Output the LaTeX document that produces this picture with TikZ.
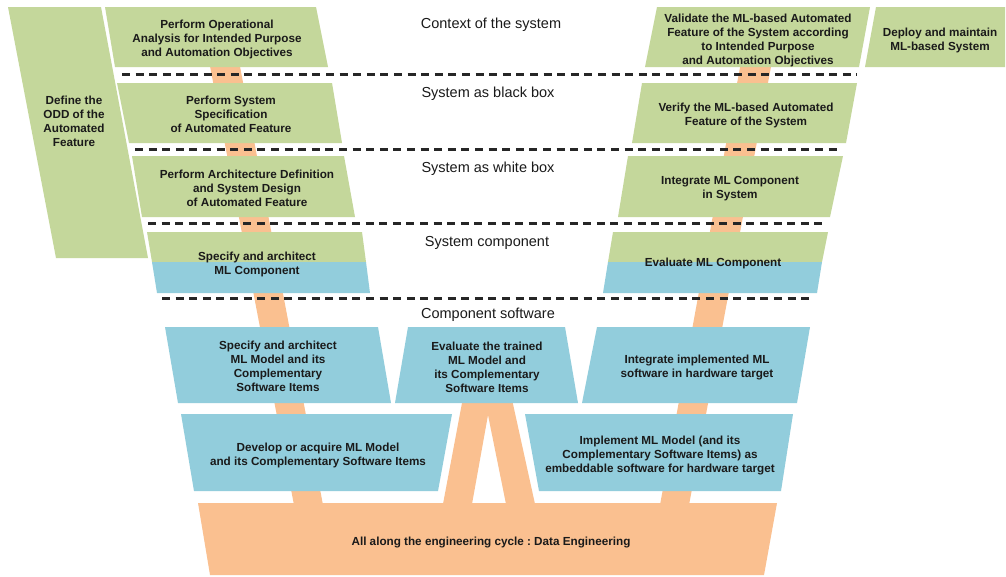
\documentclass[tikz,border=0pt]{standalone}
\usepackage{fontspec}
\setmainfont{Liberation Sans}
\frenchspacing
\definecolor{boxgreen}{HTML}{C4D79B}
\definecolor{boxblue}{HTML}{92CDDC}
\definecolor{band}{HTML}{FAC090}
\definecolor{ink}{HTML}{1A1A1A}
\tikzset{
  lbl/.style={font=\fontsize{11.7}{14}\selectfont\bfseries, text=ink, align=center, inner sep=0pt},
  head/.style={font=\fontsize{14.5}{17}\selectfont, text=ink, inner sep=0pt},
  sep/.style={line width=2.8pt, dash pattern=on 8pt off 5.6pt, black!85},
}
\begin{document}
\begin{tikzpicture}[x=1pt,y=-1pt]
\useasboundingbox (0,0) rectangle (1006,576);
\fill[white] (0,0) rectangle (1006,576);
% orange bands
\fill[band] (205,40) -- (235,40) -- (323,505) -- (294,505) -- cycle;
\fill[band] (745,40) -- (776,40) -- (689,505) -- (660,505) -- cycle;
\fill[band] (463.5,395) -- (511,395) -- (535,504) -- (506,504) -- (488,415) -- (472,504) -- (443,504) -- cycle;
\fill[band] (198,503) -- (777,503) -- (764,575) -- (210,575) -- cycle;
% left column
\fill[boxgreen] (8,7) -- (101,7) -- (148,258) -- (56,258) -- cycle;
\fill[boxgreen] (105,7) -- (316,7) -- (328,67) -- (115,67) -- cycle;
\fill[boxgreen] (117,83) -- (332,83) -- (342,143) -- (129,143) -- cycle;
\fill[boxgreen] (132,156) -- (344,156) -- (355,217) -- (142,217) -- cycle;
\fill[boxgreen] (147,232) -- (362,232) -- (366,262) -- (152,262) -- cycle;
\fill[boxblue] (152,262) -- (366,262) -- (370,293) -- (157,293) -- cycle;
% right column
\fill[boxgreen] (657,7) -- (870,7) -- (859,67) -- (645,67) -- cycle;
\fill[boxgreen] (876,7) -- (1005,7) -- (1005,67) -- (865,67) -- cycle;
\fill[boxgreen] (642,83) -- (857,83) -- (846,143) -- (632,143) -- cycle;
\fill[boxgreen] (628,156) -- (843,156) -- (830,217) -- (618,217) -- cycle;
\fill[boxgreen] (613,232) -- (828,232) -- (822,262) -- (608,262) -- cycle;
\fill[boxblue] (608,262) -- (822,262) -- (817,293) -- (603,293) -- cycle;
% component software
\fill[boxblue] (165,327) -- (378,327) -- (391,403) -- (178,403) -- cycle;
\fill[boxblue] (408,327) -- (565,327) -- (578,403) -- (395,403) -- cycle;
\fill[boxblue] (597,327) -- (810,327) -- (797,403) -- (582,403) -- cycle;
\fill[boxblue] (181,414) -- (452,414) -- (438,491) -- (194,491) -- cycle;
\fill[boxblue] (525,414) -- (793,414) -- (781,491) -- (539,491) -- cycle;
% separators
\coordinate (s1a) at (122,74.5);  \coordinate (s1b) at (857,74.5);
\coordinate (s2a) at (135,149.5); \coordinate (s2b) at (840,149.5);
\coordinate (s3a) at (148,223.5); \coordinate (s3b) at (827,223.5);
\coordinate (s4a) at (162,298.5); \coordinate (s4b) at (810,298.5);
\draw[sep] (s1a) -- (s1b);
\draw[sep] (s2a) -- (s2b);
\draw[sep] (s3a) -- (s3b);
\draw[sep] (s4a) -- (s4b);
% headings
\node[head] (h1) at (491,24.5) {Context of the system};
\node[head] (h2) at (488,93.5) {System as black box};
\node[head] (h3) at (488,168.5) {System as white box};
\node[head] (h4) at (487,242.5) {System component};
\node[head] (h5) at (488,314.5) {Component software};
% labels
\node[lbl] (odd) at (74,121.5) {Define the\\ODD of the\\Automated\\Feature};
\node[lbl] (opa) at (217,39) {Perform Operational\\Analysis for Intended Purpose\\and Automation Objectives};
\node[lbl] (sys) at (231,114) {Perform System\\Specification\\of Automated Feature};
\node[lbl] (arc) at (247,188) {Perform Architecture Definition\\and System Design\\of Automated Feature};
\node[lbl] (spc) at (257,264) {Specify and architect\\ML Component};
\node[lbl] (val) at (758,40) {Validate the ML-based Automated\\Feature of the System according\\to Intended Purpose\\and Automation Objectives};
\node[lbl] (dep) at (940,40) {Deploy and maintain\\ML-based System};
\node[lbl] (ver) at (746,115) {Verify the ML-based Automated\\Feature of the System};
\node[lbl] (int) at (730,189) {Integrate ML Component\\in System};
\node[lbl] (evc) at (713,263) {Evaluate ML Component};
\node[lbl] (smm) at (278,366) {Specify and architect\\ML Model and its\\Complementary\\Software Items};
\node[lbl] (etm) at (487,367) {Evaluate the trained\\ML Model and\\its Complementary\\Software Items};
\node[lbl] (iis) at (697,367) {Integrate implemented ML\\software in hardware target};
\node[lbl] (dev) at (318,455) {Develop or acquire ML Model\\and its Complementary Software Items};
\node[lbl] (imp) at (660,455) {Implement ML Model (and its\\Complementary Software Items) as\\embeddable software for hardware target};
\node[lbl] (dat) at (491,542) {All along the engineering cycle : Data Engineering};
\end{tikzpicture}
\end{document}
